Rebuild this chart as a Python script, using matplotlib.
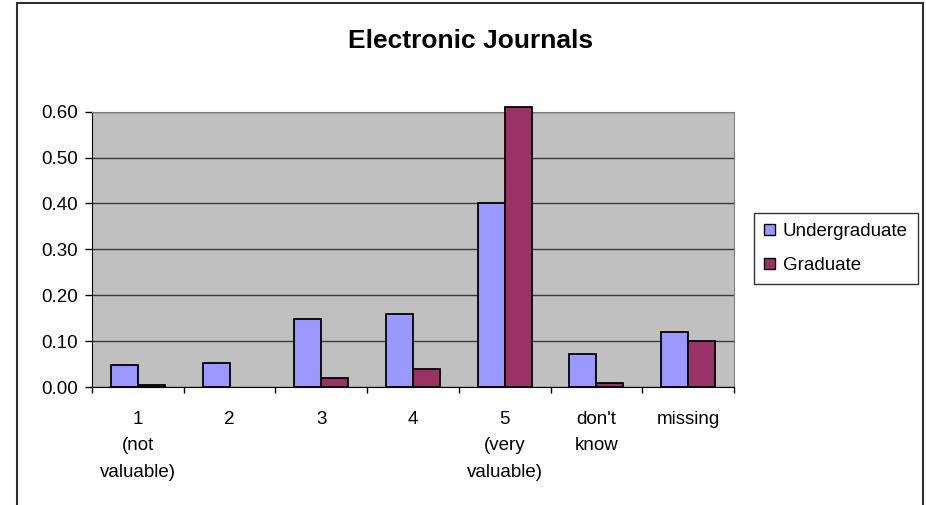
import matplotlib
matplotlib.use("Agg")
from matplotlib import pyplot as plt
from matplotlib.patches import Rectangle
import numpy as np

plt.rcParams['font.family'] = ['Liberation Sans', 'DejaVu Sans']

categories = ["1\n(not\nvaluable)", "2", "3", "4", "5\n(very\nvaluable)", "don't\nknow", "missing"]
undergraduate = [0.048, 0.052, 0.148, 0.160, 0.400, 0.072, 0.120]
graduate = [0.004, 0.0, 0.020, 0.040, 0.610, 0.008, 0.100]
y_ticks = [0.0, 0.1, 0.2, 0.3, 0.4, 0.5, 0.6]

fs = 13.5

fig = plt.figure(figsize=(9.26, 5.05), dpi=100)
# outer chart frame (bottom edge runs off the page)
fig.patches.append(Rectangle((17 / 926, -0.05), 906 / 926, 1.05 - 3 / 505,
                             transform=fig.transFigure, fill=False,
                             edgecolor='#303030', linewidth=1.5))

ax = fig.add_axes([92 / 926, 1 - 387 / 505, 642 / 926, 275.3 / 505])
ax.set_facecolor('#c0c0c0')

x = np.arange(len(categories))
w = 0.295
ax.bar(x - w / 2, undergraduate, w, color='#9999ff', edgecolor='black',
       linewidth=[1.3 if v > 0 else 0 for v in undergraduate],
       label='Undergraduate', clip_on=False, zorder=3)
ax.bar(x + w / 2, graduate, w, color='#993366', edgecolor='black',
       linewidth=[1.3 if v > 0 else 0 for v in graduate],
       label='Graduate', clip_on=False, zorder=3)

ax.set_xlim(-0.5, len(categories) - 0.5)
ax.set_ylim(0, 0.6)
ax.set_yticks(y_ticks)
ax.set_yticklabels(['%.2f' % v for v in y_ticks], fontsize=fs)
ax.yaxis.grid(True, color='#3a3a3a', linewidth=1.0)
ax.set_axisbelow(True)

# category labels sit between tick marks at the boundaries
ax.set_xticks(np.arange(len(categories) + 1) - 0.5)
ax.set_xticklabels([])
ax.set_xticks(x, minor=True)
ax.set_xticklabels(categories, minor=True, fontsize=fs, linespacing=1.75,
                   va='top')
ax.tick_params(axis='x', which='minor', length=0, pad=17)
ax.tick_params(axis='x', which='major', length=4.5, width=1, direction='out')
ax.tick_params(axis='y', length=5, width=1, direction='out', pad=5)

for side in ['top', 'right']:
    ax.spines[side].set_color('#808080')
for side in ['left', 'bottom']:
    ax.spines[side].set_color('black')

fig.text(471 / 926, 1 - 41 / 505, 'Electronic Journals', fontsize=19,
         fontweight='bold', ha='center', va='center')

leg = ax.legend(loc='upper left', bbox_to_anchor=(754 / 926, 1 - 213 / 505),
                bbox_transform=fig.transFigure, fontsize=fs, frameon=True,
                fancybox=False, edgecolor='black', handlelength=0.57,
                handleheight=0.57, handletextpad=0.4, labelspacing=0.9,
                borderpad=0.55, borderaxespad=0)
leg.get_frame().set_linewidth(1.0)
for h in leg.legend_handles:
    h.set_linewidth(1.0)

fig.savefig('out.png', dpi=100, facecolor='white')
